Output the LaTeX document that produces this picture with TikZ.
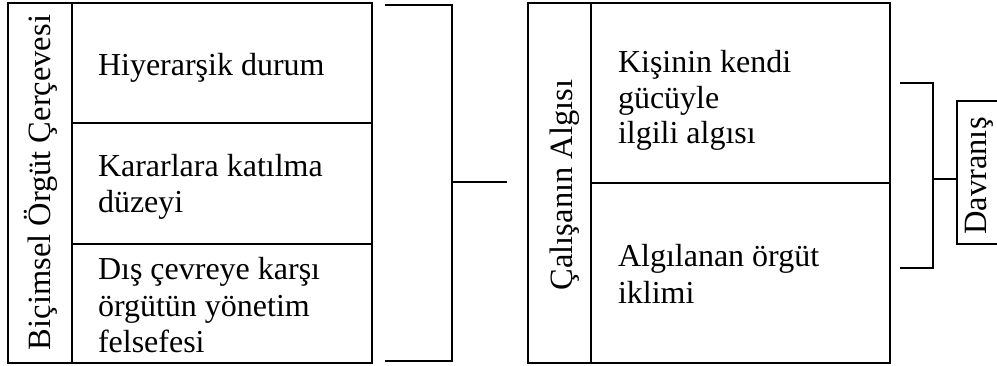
\documentclass[tikz,border=0pt]{standalone}
\usepackage{fontspec}
\setmainfont{Liberation Serif}
\newcommand{\celltext}[2]{\fontsize{32}{#1}\selectfont\begin{tabular}[t]{@{}l@{}}#2\end{tabular}}
\begin{document}
\begin{tikzpicture}[x=1pt, y=-1pt, line width=2pt,
  frame/.style={draw, rectangle, inner sep=0pt, outer sep=0pt, anchor=north west},
  celllabel/.style={inner sep=0pt, anchor=base west},
  sidelabel/.style={font=\fontsize{32.5}{38}\selectfont, inner sep=0pt, rotate=90, anchor=base},
  bracket/.style={line cap=rect, line join=miter}]
\useasboundingbox (0,0) rectangle (997,365);

% Left block: formal organisational frame
\node[frame, minimum width=64pt, minimum height=360pt] (bicim) at (8,3) {};
\node[frame, minimum width=300pt, minimum height=120pt] (hiy) at (72,3) {};
\node[frame, minimum width=300pt, minimum height=121pt] (karar) at (72,123) {};
\node[frame, minimum width=300pt, minimum height=119pt] (dis) at (72,244) {};
\node[sidelabel] (bicimlbl) at (50,182.5) {Biçimsel Örgüt Çerçevesi};
\node[celllabel] (hiytxt) at (97,75) {\celltext{36.5}{Hiyerarşik durum}};
\node[celllabel] (karartxt) at (97,176) {\celltext{36.7}{Kararlara katılma\\düzeyi}};
\node[celllabel] (distxt) at (97,279.7) {\celltext{36.3}{Dış çevreye karşı\\örgütün yönetim\\felsefesi}};

% First bracket
\coordinate (b1t) at (386,5);
\coordinate (b1tr) at (452,5);
\coordinate (b1br) at (452,361);
\coordinate (b1b) at (386,361);
\coordinate (b1m) at (452,182);
\coordinate (b1e) at (507,182);
\draw[bracket] (b1t) -- (b1tr) -- (b1br) -- (b1b);
\draw (b1m) -- (b1e);

% Right block: employee perception
\node[frame, minimum width=63pt, minimum height=360pt] (calisan) at (528,3) {};
\node[frame, minimum width=299pt, minimum height=180pt] (guc) at (591,3) {};
\node[frame, minimum width=299pt, minimum height=180pt] (iklim) at (591,183) {};
\node[sidelabel] (calisanlbl) at (572,185) {Çalışanın Algısı};
\node[celllabel] (guctxt) at (617,72.7) {\celltext{35.3}{Kişinin kendi\\gücüyle\\ilgili algısı}};
\node[celllabel] (iklimtxt) at (617,266.7) {\celltext{36.7}{Algılanan örgüt\\iklimi}};

% Second bracket and behaviour box
\node[frame, minimum width=45pt, minimum height=143pt] (dav) at (957,101) {};
\node[sidelabel] (davlbl) at (986,176) {Davranış};
\coordinate (b2t) at (901,83);
\coordinate (b2tr) at (933,83);
\coordinate (b2br) at (933,268);
\coordinate (b2b) at (901,268);
\coordinate (b2m) at (933,179);
\draw[bracket] (b2t) -- (b2tr) -- (b2br) -- (b2b);
\draw (b2m) -- (b2m -| dav.west);
\end{tikzpicture}
\end{document}
